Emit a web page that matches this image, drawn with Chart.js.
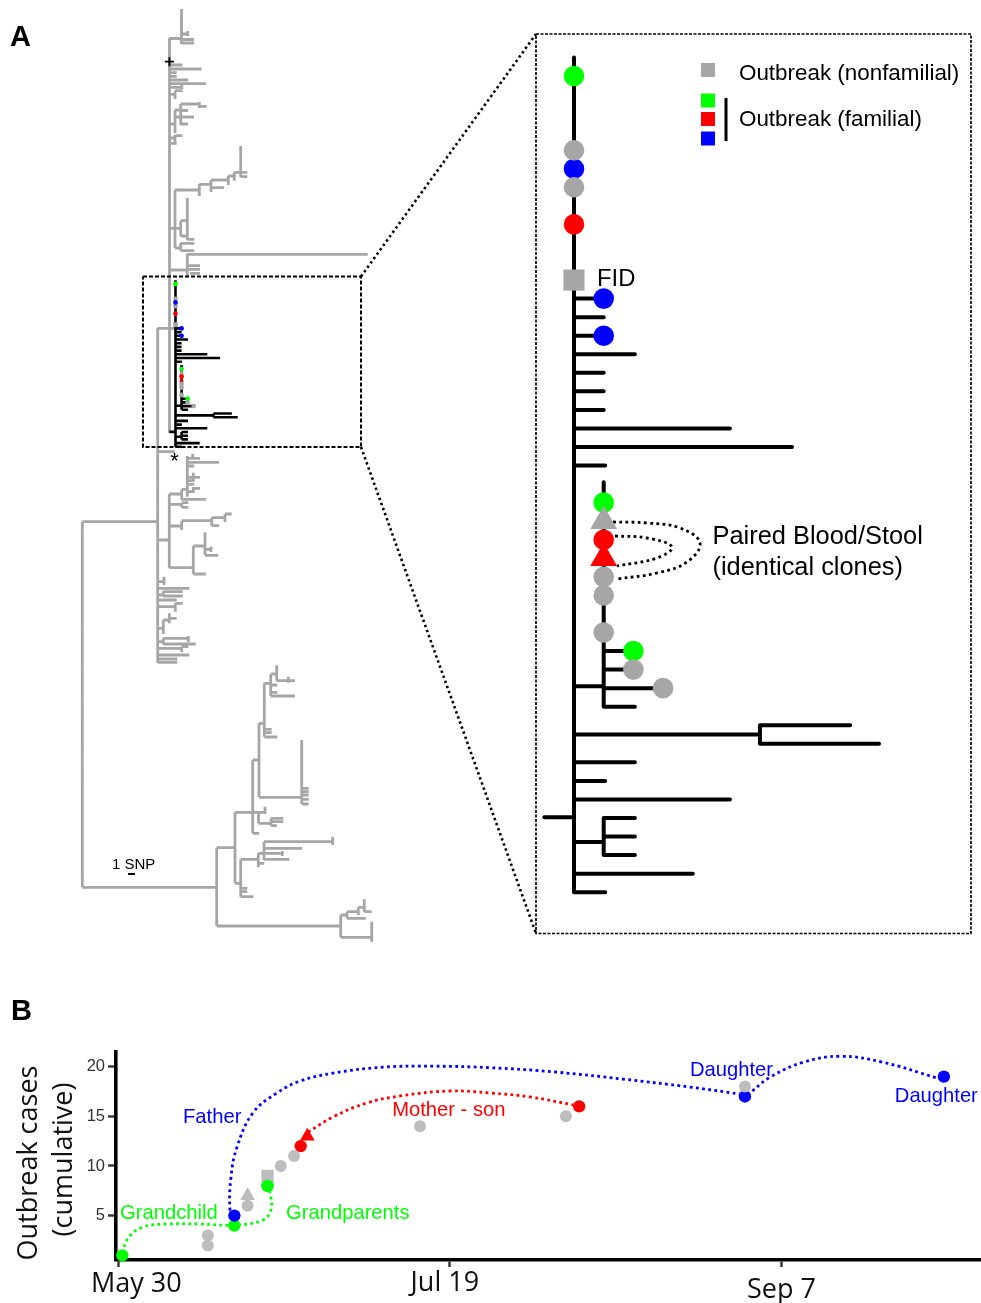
<!DOCTYPE html>
<html>
<head>
<meta charset="utf-8">
<title>Outbreak phylogeny and timeline</title>
<script src="https://cdn.jsdelivr.net/npm/chart.js@4/dist/chart.umd.js"></script>
<style>
  html, body { margin: 0; padding: 0; background: #fff; }
  #page { position: relative; width: 981px; height: 1303px; overflow: hidden; }
  canvas { position: absolute; left: 0; display: block; }
  #treeChart { top: 0; }
  #timelineChart { top: 960px; }
</style>
</head>
<body>
<div id="page">
  <canvas id="treeChart" width="981" height="960"></canvas>
  <canvas id="timelineChart" width="981" height="343"></canvas>
</div>
<script>
// ---- Panel A data: full tree in tree units ----
// [y, x1, x2]
const treeHorizontal = [
  [38.5,169.5,181.5],[34,181.5,188],[39.5,181.5,194],[43,181.5,194],
  [65,169.5,182.5],[69,169.5,201.5],[72.7,169.5,176.7],[76.3,169.5,176.7],[80,169.5,188.3],[83.7,169.5,206],[87.3,169.5,181.7],
  [94.3,169.5,175],[90.7,175,182.5],
  [124,169.5,175],[110,175,180.7],[104,180.7,199.3],[106.3,199.3,206.7],[110.5,180.7,188],[117,175,194],[124,180.7,188],
  [138,169.5,175],[135.7,175,182.5],[143.3,169.5,176.7],
  [228.3,169.5,180.7],[190,175,199.3],[184.3,199.3,211],[187.7,211,224],[180,211,228.3],[176,228.3,234.3],[172.3,234.3,247.3],[176.7,240.7,247.3],
  [220.7,180.7,187.3],[236,180.7,187.3],[239.3,187.3,194.3],
  [248,175,180.7],[243.3,180.7,194.3],[250.7,180.7,194.3],
  [254.3,187.3,367.7],[270,169.5,187.3],[265.7,187.3,200],[269.3,187.3,200],[273.3,190,200],
  [328.3,157.7,175],[451.7,157.7,175],
  [521.7,82.3,157.7],[887.3,82.3,216.7],
  [540,157.7,169.3],[494,169.3,181.7],[489.3,181.7,187.3],[458.3,187.3,200],[462.3,187.3,219],[466,187.3,194.3],[477.3,187.3,200],[480.7,187.3,193.3],[484.3,187.3,194.3],[491.7,187.3,193.3],[488.3,193.3,200],
  [499.3,181.7,206],[504.3,169.3,181.7],[502.7,181.7,188.3],[507.3,181.7,188.3],
  [526,169.3,181.7],[520.7,181.7,211.7],[525.7,211.7,219],[517.7,211.7,225],[514,225,231.7],
  [567.7,169.3,193.3],[574,193.3,206],[546,193.3,205],[555.3,205,218.3],[549.3,205,211.7],
  [581.7,157.7,164],[588.3,157.7,189.3],[595,157.7,163.3],[591.7,163.3,182.7],[596,163.3,182.7],[600,157.7,176.7],
  [606.7,157.7,175.3],[603.3,175.3,182.7],[628.3,157.7,163.3],[620,163.3,169.3],[618.3,169.3,176.7],
  [641.7,157.7,163.3],[638.3,163.3,188.3],[644,163.3,195.7],[648.3,157.7,181.7],[646.7,181.7,188.3],[655,157.7,189.3],[659,157.7,177.3],[662.3,157.7,177.3],
  [926,216.7,340.7],[937.3,340.7,371.7],[915,340.7,346.7],[918.3,347,365.7],[911.7,347,358.3],[907.3,358.3,364.3],[911.7,364.3,371.7],
  [847.7,216.7,235],[812.3,235,265],[833.3,252.7,259.3],[760,252.7,259],[723.3,259,264.3],[683.3,264.3,270.7],[674,270.7,276.7],
  [680.7,276.7,295],[685,270.7,277.3],[692.3,270.7,277.3],[696,270.7,295],[729.3,264.3,271.7],[732.7,264.3,271.7],[737,264.3,277.3],
  [797.3,259,301.7],[788.3,301.7,308.7],[791.7,301.7,308.7],[795,301.7,308.7],[799.3,301.7,308.7],[804,301.7,308.7],
  [823.3,258.5,271],[818.3,271,283.3],[821.7,271,283.3],[825.7,271,277],
  [883.3,235,240.7],[859.3,240.7,258.3],[853.3,258.3,264],[841.7,264,332.7],[848.3,264,302.3],[853.4,264,283.3],[859.3,264,289.3],[863.3,258.3,264.3],
  [888.3,240.7,247.3],[891.7,240.7,247.3],[896.7,240.7,253.3]
];
// [x, y1, y2]
const treeVertical = [
  [169.5,38,433],[181.5,9,44],[187.7,31,36],[181.7,84,89],[175,90.7,99],[175,110,133],[180.7,104,115],[180.7,115,125],[199.3,102,108],
  [175,135,142],[175,190,248],[199.3,184,196],[211,180,192],[228.3,176,185],[234.3,172.3,180.7],[240.7,146,177],
  [180.7,220.7,236],[187.3,198,230],[187.3,227,240],[180.7,243,250.7],[187.3,253.5,276],
  [157.7,328,663],[82.3,521.7,887.3],
  [169.3,494,567.7],[181.7,489.3,500],[187.3,456,496.7],[192.7,454,458],[193.3,472.7,481.7],[193.3,487,493],
  [181.7,502.7,507.3],[181.7,520.7,530],[211.7,517.7,525.7],[225,514,522],
  [193.3,546,574],[205,532.3,555.3],[211,546.7,552],
  [164,576.7,585],[163.3,591,596],[175.3,603.3,611.7],[163.3,620,634],[169.3,613.3,623.3],[163.3,638.3,644.3],[188.3,636,642],[181.7,646.7,652],
  [216.7,847.7,926],[340.7,915,937.3],[371.7,921.7,941.7],[347,911.7,918.3],[358.3,907.3,915],[364.3,899.3,911.7],
  [235,812.3,883.3],[252.7,760,833.3],[259,723.3,797.3],[264.3,683.3,736.7],[270.7,674,696],[276.7,665.3,680.7],[288.3,676.7,682.7],
  [301.7,740,804],[258.5,811.7,823.3],[265,806.7,814],[271,818.3,825.7],
  [240.7,859.3,896.7],[258.3,853.3,867.3],[264,841.7,860],[332.7,836.7,845],[282.3,851,856]
];

// ---- Panel A data: outbreak subtree, x = SNPs from the trunk, y = tip row ----
// [row, snp1, snp2]
const cladeHorizontal = [
  [12,0,1],[13,0,1],[14,0,1],[15,0,2.05],[16,0,1],[17,0,1],[18,0,1],[19,0,5.25],[20,0,7.34],[21,0,1.05],
  [32.9,0,1],[31,1,2],[32,1,2],[33,1,3],[34,1,2.05],
  [35.5,0,6.26],[35,6.26,9.3],[36,6.26,10.27],
  [37,0,2.05],[38,0,1.05],[39,0,5.25],[39.96,-1,0],
  [41.3,0,1],[40,1,2.05],[41,1,2.05],[42,1,2.05],[43,0,4],[44,0,1.05]
];
// [snp, row1, row2]
const cladeVertical = [[0,-1,44],[1,21.9,34],[6.26,35,36],[1,40,42]];

// outbreak isolates on the subtree
const cladeGreenSnp = [0,1,2],  cladeGreenRow = [0,23,31];
const cladeBlueSnp = [0,1,1],   cladeBlueRow = [5,12,14];
const cladeRedSnp = [0,1],      cladeRedRow = [8,25];
const cladeGreySnp = [0,0,1,1,1,2,3], cladeGreyRow = [4,6,27,28,30,32,33];
const cladeGreyTriangleSnp = [1], cladeGreyTriangleRow = [24];
const cladeRedTriangleSnp = [1],  cladeRedTriangleRow = [26];
const cladeFidSnp = [0],          cladeFidRow = [11];

// ---- Panel B data: x = days since May 30, y = cumulative cases ----
const xTickDays = [0, 50, 100];
const xTickLabels = ['May 30', 'Jul 19', 'Sep 7'];
const yTicks = [5, 10, 15, 20];
const greenDays = [0.6,17.5,22.5],  greenCases = [1,4,8];
const blueDays = [17.5,94.5,124.5], blueCases = [5,17,19];
const redDays = [27.5,69.5],        redCases = [12,16];
const greyDays = [13.5,13.5,19.5,24.5,26.5,45.5,67.5,94.5], greyCases = [2,3,6,10,11,14,15,18];
const greyTriangleDays = [19.5], greyTriangleCases = [7];
const redTriangleDays = [28.5],  redTriangleCases = [13];
const greySquareDays = [22.5],   greySquareCases = [9];

// transmission links
const greenLinkDays = [0.6,1.5,3.7,7.3,12.3,17.5,21.8,23,23,22.6];
const greenLinkCases = [1.24,2.75,3.85,4.15,4.15,4.05,4.55,5.55,6.9,7.9];
const blueLinkDays = [17.5,16.85,17,17.9,20.3,23.9,27.4,32.4,39.9,47.5,56.1,66.1,76.1,86.2,93.7];
const blueLinkCases = [5.05,5.55,8.9,11.9,15.35,17.35,18.55,19.35,19.95,20.05,19.9,19.45,18.75,17.95,17.25];
const blueLink2Days = [95.6,98.3,103.3,108.9,115.3,123.5];
const blueLink2Cases = [17.55,18.95,20.45,21.05,20.45,18.85];
const redLinkDays = [28.6,32.4,37.5,42.5,50,56.1,62.1,68.6];
const redLinkCases = [13.4,14.95,16.35,17.05,17.55,17.35,16.95,16.15];

const GREY = '#a6a6a6', LIGHT_GREY = '#bdbdbd', GREEN = '#00ff00', RED = '#ff0000', BLUE = '#0000ff';
const SANS = '"Liberation Sans", Arial, sans-serif';
const MYRIAD = '"Open Sans", sans-serif';

// horizontal and vertical branches -> one polyline with gaps
function branches(horizontal, vertical) {
  const pts = [];
  horizontal.forEach(([y, x1, x2]) => pts.push({ x: x1, y }, { x: x2, y }, { x: NaN, y: NaN }));
  vertical.forEach(([x, y1, y2]) => pts.push({ x, y: y1 }, { x, y: y2 }, { x: NaN, y: NaN }));
  return pts;
}

const zip = (xs, ys) => xs.map((x, i) => ({ x, y: ys[i] }));

function lineSet(data, color, width, extra = {}) {
  return { data, showLine: true, borderColor: color, borderWidth: width, pointRadius: 0, tension: 0, clip: false, ...extra };
}

function pointSet(data, color, radius, style = 'circle', extra = {}) {
  return { data, showLine: false, backgroundColor: color, borderColor: color, borderWidth: 0,
    pointRadius: radius, pointStyle: style, clip: false, ...extra };
}

// later datasets sit on top
function stack(datasets) {
  datasets.forEach((d, i) => { d.order = datasets.length - i; });
  return datasets;
}

function hiddenAxis(min, max, reverse = false) {
  return { type: 'linear', display: false, min, max, reverse };
}

// text labels placed through the chart's scales
const textPlugin = {
  id: 'textLabels',
  afterDatasetsDraw(chart, args, opts) {
    const ctx = chart.ctx;
    ctx.save();
    ctx.textBaseline = 'alphabetic';
    opts.items.forEach(t => {
      const x = chart.scales[opts.xScale].getPixelForValue(t.x);
      const y = chart.scales[opts.yScale].getPixelForValue(t.y);
      ctx.font = t.font;
      ctx.fillStyle = t.color || '#000';
      ctx.textAlign = t.align || 'left';
      ctx.fillText(t.text, x + (t.dx || 0), y + (t.dy || 0));
    });
    ctx.restore();
  }
};

// ---- Panel A ----
const cladeXY = { xAxisID: 'xClade', yAxisID: 'yClade' };
const miniXY = { xAxisID: 'xMini', yAxisID: 'yMini' };
const cladeLines = branches(cladeHorizontal, cladeVertical);

new Chart(document.getElementById('treeChart'), {
  type: 'scatter',
  plugins: [textPlugin],
  data: {
    datasets: stack([
      // overview tree
      lineSet(branches(treeHorizontal, treeVertical), GREY, 2.8),
      lineSet(cladeLines, '#000', 2.6, miniXY),
      pointSet(zip(cladeGreySnp, cladeGreyRow), GREY, 2.4, 'circle', miniXY),
      pointSet(zip(cladeGreenSnp, cladeGreenRow), GREEN, 2.4, 'circle', miniXY),
      pointSet(zip(cladeBlueSnp, cladeBlueRow), BLUE, 2.4, 'circle', miniXY),
      pointSet(zip(cladeRedSnp, cladeRedRow), RED, 2.4, 'circle', miniXY),
      pointSet(zip(cladeGreyTriangleSnp, cladeGreyTriangleRow), GREY, 2.8, 'triangle', miniXY),
      pointSet(zip(cladeRedTriangleSnp, cladeRedTriangleRow), RED, 2.8, 'triangle', miniXY),
      pointSet(zip(cladeFidSnp, cladeFidRow), GREY, 3.4, 'rect', miniXY),
      lineSet([{ x: 128, y: 874 }, { x: 135, y: 874 }], '#000', 2),
      pointSet([{ x: 169.4, y: 61.7 }], '#000', 4.5, 'cross', { borderWidth: 1.8 }),
      // zoom box and guides
      lineSet([{ x: 143, y: 276.5 }, { x: 361, y: 276.5 }, { x: 361, y: 447 }, { x: 143, y: 447 }, { x: 143, y: 276.5 }], '#000', 2, { borderDash: [4, 2] }),
      lineSet([{ x: 536, y: 34 }, { x: 971, y: 34 }, { x: 971, y: 933.5 }, { x: 536, y: 933.5 }, { x: 536, y: 34 }], '#000', 1.7, { borderDash: [3, 1.5] }),
      lineSet([{ x: 361, y: 276.5 }, { x: 536, y: 34 }], '#000', 2.6, { borderDash: [2.4, 3] }),
      lineSet([{ x: 361, y: 447 }, { x: 536, y: 933.5 }], '#000', 2.6, { borderDash: [2.4, 3] }),
      // enlarged subtree
      lineSet(cladeLines, '#000', 4, { ...cladeXY, borderCapStyle: 'round' }),
      lineSet([{ x: 726, y: 98 }, { x: 726, y: 141 }], '#000', 3),
      // paired blood/stool links
      lineSet([{ x: 613, y: 522 }, { x: 647, y: 523 }, { x: 680, y: 528 }, { x: 700, y: 543 }, { x: 687, y: 562 }, { x: 657, y: 573 }, { x: 617, y: 579 }],
        '#000', 2.8, { borderDash: [2.8, 3.4], tension: 0.4 }),
      lineSet([{ x: 615, y: 536 }, { x: 647, y: 538 }, { x: 672, y: 547 }, { x: 657, y: 558 }, { x: 617, y: 566 }],
        '#000', 2.8, { borderDash: [2.8, 3.4], tension: 0.4 }),
      pointSet(zip(cladeRedSnp, cladeRedRow), RED, 10.3, 'circle', cladeXY),
      pointSet(zip(cladeBlueSnp, cladeBlueRow), BLUE, 10.3, 'circle', cladeXY),
      pointSet(zip(cladeGreenSnp, cladeGreenRow), GREEN, 10.3, 'circle', cladeXY),
      pointSet(zip(cladeGreySnp, cladeGreyRow), GREY, 10.3, 'circle', cladeXY),
      pointSet(zip(cladeGreyTriangleSnp, cladeGreyTriangleRow), GREY, 15.5, 'triangle', cladeXY),
      pointSet(zip(cladeRedTriangleSnp, cladeRedTriangleRow), RED, 15.5, 'triangle', cladeXY),
      pointSet(zip(cladeFidSnp, cladeFidRow), GREY, 14.9, 'rect', cladeXY),
      // legend swatches
      pointSet([{ x: 708, y: 70 }], GREY, 9.9, 'rect'),
      pointSet([{ x: 708, y: 100.5 }], GREEN, 9.9, 'rect'),
      pointSet([{ x: 708, y: 119 }], RED, 9.9, 'rect'),
      pointSet([{ x: 708, y: 138.5 }], BLUE, 9.9, 'rect')
    ])
  },
  options: {
    responsive: false,
    animation: false,
    events: [],
    layout: { padding: 0, autoPadding: false },
    scales: {
      x: hiddenAxis(0, 981),
      y: hiddenAxis(0, 960, true),
      // 1 SNP = 29.7 px, one tip row = 18.55 px in the enlargement
      xClade: hiddenAxis(-574 / 29.7, 407 / 29.7),
      yClade: hiddenAxis(-76 / 18.55, 884 / 18.55, true),
      // same subtree at overview size
      xMini: hiddenAxis(-175.5 / 6.06, 805.5 / 6.06),
      yMini: hiddenAxis(-284 / 3.7, 676 / 3.7, true)
    },
    plugins: {
      legend: { display: false },
      tooltip: { enabled: false },
      textLabels: {
        xScale: 'x', yScale: 'y',
        items: [
          { text: 'A', x: 10, y: 46, font: `bold 29px ${SANS}` },
          { text: '*', x: 174.5, y: 468, font: `22px ${SANS}`, align: 'center' },
          { text: '1 SNP', x: 112, y: 868.5, font: `15px ${SANS}` },
          { text: 'FID', x: 597, y: 286, font: `23.8px ${SANS}` },
          { text: 'Outbreak (nonfamilial)', x: 739, y: 80, font: `22.4px ${SANS}` },
          { text: 'Outbreak (familial)', x: 739, y: 126, font: `22.4px ${SANS}` },
          { text: 'Paired Blood/Stool', x: 712.5, y: 544, font: `25.4px ${SANS}` },
          { text: '(identical clones)', x: 712.5, y: 574.5, font: `25.4px ${SANS}` }
        ]
      }
    }
  }
});

// ---- Panel B ----
const dotted = { borderDash: [2.8, 3.4], tension: 0.4 };

new Chart(document.getElementById('timelineChart'), {
  type: 'scatter',
  plugins: [textPlugin, {
    id: 'xTickText',
    afterDraw(chart) {
      const ctx = chart.ctx, x = chart.scales.x;
      const nudge = [[18, 0], [-5, -1], [0, 6]];
      ctx.save();
      ctx.font = `27px ${MYRIAD}`;
      ctx.fillStyle = '#111';
      ctx.textAlign = 'center';
      xTickDays.forEach((d, i) => {
        ctx.fillText(xTickLabels[i], x.getPixelForValue(d) + nudge[i][0], 332 + nudge[i][1]);
      });
      ctx.restore();
    }
  }],
  data: {
    datasets: stack([
      pointSet(zip(greenDays, greenCases), GREEN, 6.2),
      pointSet(zip(blueDays, blueCases), BLUE, 6.2),
      pointSet(zip(redDays, redCases), RED, 6.2),
      lineSet(zip(greenLinkDays, greenLinkCases), GREEN, 2.8, dotted),
      lineSet(zip(blueLinkDays, blueLinkCases), BLUE, 2.8, dotted),
      lineSet(zip(blueLink2Days, blueLink2Cases), BLUE, 2.8, dotted),
      lineSet(zip(redLinkDays, redLinkCases), RED, 2.8, dotted),
      pointSet(zip(greySquareDays, greySquareCases), LIGHT_GREY, 8.7, 'rect'),
      pointSet(zip(greyTriangleDays, greyTriangleCases), LIGHT_GREY, 8.5, 'triangle'),
      pointSet(zip(greyDays, greyCases), LIGHT_GREY, 6),
      pointSet(zip(redTriangleDays, redTriangleCases), RED, 8.5, 'triangle'),
      pointSet(zip(greenDays, greenCases).filter(p => p.x > 20), GREEN, 6.2)
    ])
  },
  options: {
    responsive: false,
    animation: false,
    events: [],
    layout: { padding: { top: 92, left: 0, right: 0, bottom: 0 }, autoPadding: false },
    scales: {
      x: {
        type: 'linear',
        min: -0.35,
        max: 130.1,
        afterBuildTicks: s => { s.ticks = xTickDays.map(value => ({ value })); },
        afterFit: s => { s.height = 43; },
        ticks: { display: false },
        border: { display: true, color: '#000', width: 3.6 },
        grid: { drawOnChartArea: false, drawTicks: true, tickLength: 7, tickWidth: 2.4, tickColor: '#333' }
      },
      y: {
        type: 'linear',
        min: 0.53,
        max: 21.48,
        afterBuildTicks: s => { s.ticks = yTicks.map(value => ({ value })); },
        afterFit: s => { s.width = 116; },
        ticks: { color: '#333', padding: 3, font: { family: SANS, size: 16.5 } },
        border: { display: true, color: '#000', width: 3.6 },
        grid: { drawOnChartArea: false, drawTicks: true, tickLength: 8, tickWidth: 2.4, tickColor: '#333' },
        title: {
          display: true,
          // trailing spaces sit the centred lines a little below the axis middle, as in the figure
          text: ['Outbreak cases  ', '(cumulative) '],
          color: '#111',
          padding: { top: 12, bottom: 0 },
          font: { family: MYRIAD, size: 27, lineHeight: 1.3 }
        }
      }
    },
    plugins: {
      legend: { display: false },
      tooltip: { enabled: false },
      textLabels: {
        xScale: 'x', yScale: 'y',
        items: [
          { text: 'Grandchild', x: 0.26, y: 4.66, font: `20.2px ${SANS}`, color: GREEN },
          { text: 'Grandparents', x: 25.3, y: 4.66, font: `20.2px ${SANS}`, color: GREEN },
          { text: 'Father', x: 9.76, y: 14.36, font: `20.2px ${SANS}`, color: BLUE },
          { text: 'Mother - son', x: 41.3, y: 15.07, font: `20.2px ${SANS}`, color: RED },
          { text: 'Daughter', x: 86.2, y: 19.06, font: `20.2px ${SANS}`, color: BLUE },
          { text: 'Daughter', x: 117.1, y: 16.48, font: `20.2px ${SANS}`, color: BLUE },
          { text: 'B', x: -16.2, y: 24.7, font: `bold 29px ${SANS}`, color: '#000' }
        ]
      }
    }
  }
});
</script>
</body>
</html>
